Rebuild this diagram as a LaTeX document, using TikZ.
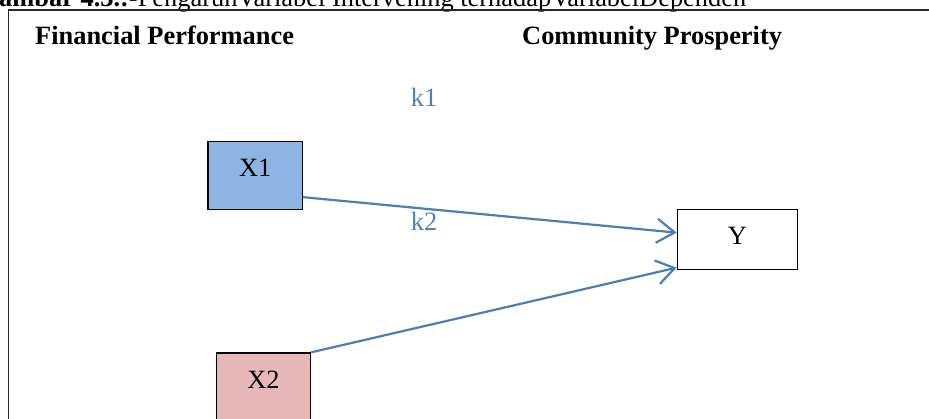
\documentclass[tikz,border=0pt]{standalone}
\usepackage{fontspec}
\setmainfont{Liberation Serif}
\usetikzlibrary{arrows.meta}
\definecolor{arrowblue}{HTML}{4A7EBB}
\definecolor{kblue}{HTML}{4F81BD}
\definecolor{xonefill}{HTML}{8EB4E3}
\definecolor{xtwofill}{HTML}{E6B9B8}
\begin{document}
\begin{tikzpicture}[x=1pt,y=-1pt,
  every node/.style={font=\fontsize{26.4}{30}\selectfont},
  varbox/.style={draw=black,line width=1.3pt,inner sep=0pt,text height=17.5pt},
  link/.style={draw=arrowblue,line width=2.2pt,-{Straight Barb[length=18pt,width=24pt]}},
  head/.style={anchor=base west,font=\fontsize{26.4}{30}\selectfont\bfseries},
  klabel/.style={text=kblue,anchor=base,inner sep=0pt}]
\useasboundingbox (0,0) rectangle (929,418);
\clip (0,0) rectangle (929,418);
% title (cut off at top)
\node[anchor=base west,inner sep=0pt] (title) at (-1,6.8) {\textbf{ambar 4.3.:-}PengaruhVariabel Intervening terhadapVariabelDependen};
% frame
\draw[line width=1.6pt,draw=black!85] (8.5,430) -- (8.5,10) -- (940,10);
% headers
\node[head,inner sep=0pt] (fp) at (35,44.5) {Financial Performance};
\node[head,inner sep=0pt] (cp) at (522,44.5) {Community Prosperity};
% labels
\node[klabel] (k1) at (424,106.5) {k1};
\node[klabel] (k2) at (424,230) {k2};
% boxes
\node[varbox,fill=xonefill,anchor=north west,minimum width=94.4pt,minimum height=68pt,text depth=15.5pt] (X1) at (207.3,141) {X1};
\node[varbox,fill=xtwofill,anchor=north west,minimum width=94.3pt,minimum height=68pt,text depth=13.5pt] (X2) at (215.7,352.3) {X2};
\node[varbox,fill=white,anchor=north west,minimum width=120pt,minimum height=60pt,text depth=6.9pt] (Y) at (676.7,209) {Y};
% connectors
\draw[link] ([yshift=-21.5pt]X1.east) -- ([yshift=7pt]Y.west);
\draw[link] (X2.north east) -- ([yshift=-28pt]Y.west);
\end{tikzpicture}
\end{document}
